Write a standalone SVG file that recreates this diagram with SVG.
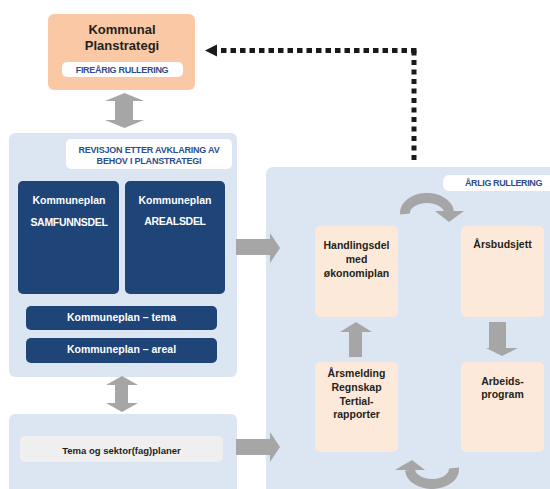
<svg xmlns="http://www.w3.org/2000/svg" width="550" height="489" viewBox="0 0 550 489">
<style>
text{font-family:"Liberation Sans",Arial,sans-serif;font-weight:bold;text-anchor:middle}
.panel{fill:#DCE6F2}
.navy{fill:#1F4477}
.wt{fill:#FFFFFF;font-size:10.5px}
.bt{fill:#2E4D8E;font-size:9px}
.dk{fill:#231F20;font-size:10.5px}
.peach{fill:#FDE9D9}
.ga{fill:#A6A6A6}
</style>
<rect width="550" height="489" fill="#FFFFFF"/>

<g id="planstrategi">
<rect x="48" y="14" width="147" height="76" rx="6" fill="#FAC8A4"/>
<text x="122" y="33.5" class="dk" style="font-size:13px">Kommunal</text>
<text x="122" y="50" class="dk" style="font-size:13px">Planstrategi</text>
<rect x="62" y="62" width="121" height="15" rx="5" fill="#FFFFFF"/>
<text x="122" y="72.7" class="bt" style="letter-spacing:-0.3px">FIREÅRIG RULLERING</text>
</g>

<g id="kommuneplan">
<rect x="9" y="133" width="228" height="244" rx="6" class="panel"/>
<rect x="66" y="139" width="166" height="30" rx="5" fill="#FFFFFF"/>
<text x="149" y="153.3" class="bt" style="letter-spacing:-0.2px">REVISJON ETTER AVKLARING AV</text>
<text x="149" y="164" class="bt" style="letter-spacing:-0.2px">BEHOV I PLANSTRATEGI</text>
</g>

<g id="samfunnsdel">
<rect x="18" y="181" width="101" height="113" rx="5" class="navy"/>
<text x="69" y="204.3" class="wt">Kommuneplan</text>
<text x="69" y="226" class="wt" style="letter-spacing:-0.3px">SAMFUNNSDEL</text>
</g>

<g id="arealsdel">
<rect x="125" y="181" width="100" height="113" rx="5" class="navy"/>
<text x="175" y="204.3" class="wt">Kommuneplan</text>
<text x="175" y="225" class="wt" style="letter-spacing:-0.3px">AREALSDEL</text>
</g>

<g id="tema">
<rect x="26" y="306" width="191" height="24" rx="5" class="navy"/>
<text x="121.5" y="320.7" class="wt">Kommuneplan – tema</text>
</g>

<g id="areal">
<rect x="26" y="338" width="191" height="25" rx="5" class="navy"/>
<text x="121.5" y="353.3" class="wt">Kommuneplan – areal</text>
</g>

<g id="sektorplaner">
<rect x="9" y="414" width="228" height="100" rx="6" class="panel"/>
<rect x="20" y="436" width="203" height="26" rx="5" fill="#EFEFEF"/>
<text x="121.5" y="453.5" class="dk" style="font-size:9.5px">Tema og sektor(fag)planer</text>
</g>

<g id="aarlig">
<rect x="266" y="167" width="300" height="340" rx="7" class="panel"/>
<rect x="443" y="175" width="120" height="16" rx="6" fill="#FFFFFF"/>
<text x="503.5" y="186" class="bt" style="letter-spacing:-0.4px">ÅRLIG RULLERING</text>
</g>

<g id="handlingsdel">
<rect x="315" y="226" width="83" height="91" rx="5" class="peach"/>
<text x="356.5" y="249.3" class="dk">Handlingsdel</text>
<text x="356.5" y="263.3" class="dk">med</text>
<text x="356.5" y="276.7" class="dk">økonomiplan</text>
</g>

<g id="aarsbudsjett">
<rect x="461" y="226" width="83" height="91" rx="5" class="peach"/>
<text x="502.5" y="248.3" class="dk">Årsbudsjett</text>
</g>

<g id="aarsmelding">
<rect x="315" y="362" width="83" height="90" rx="5" class="peach"/>
<text x="356.5" y="376.7" class="dk">Årsmelding</text>
<text x="356.5" y="390.7" class="dk">Regnskap</text>
<text x="356.5" y="404.5" class="dk">Tertial-</text>
<text x="356.5" y="418.3" class="dk">rapporter</text>
</g>

<g id="arbeidsprogram">
<rect x="461" y="362" width="83" height="90" rx="5" class="peach"/>
<text x="502.5" y="385" class="dk">Arbeids-</text>
<text x="502.5" y="398.3" class="dk">program</text>
</g>

<g id="connectors">
<!-- double arrow top -->
<polygon class="ga" points="124.5,93 105,101 115,101 115,120 105,120 124.5,128 144,120 133,120 133,101 144,101"/>
<!-- double arrow bottom -->
<polygon class="ga" points="122,376 106,385 115,385 115,403 106,403 122,412 138,403 128,403 128,385 138,385"/>
<!-- right arrows -->
<polygon class="ga" points="236,239 270,239 270,233 280,248 270,263 270,255 236,255"/>
<polygon class="ga" points="236,439 270,439 270,432 280,447 270,462 270,455 236,455"/>
<!-- up arrow -->
<polygon class="ga" points="349,357 349,332 340,332 356,322 372,332 362,332 362,357"/>
<!-- down arrow -->
<polygon class="ga" points="489,322 506,322 506,348 518,348 502,356 486,348 489,348"/>
<!-- top curved arrow -->
<path d="M405 214 A22 15 0 0 1 449 212" fill="none" stroke="#A6A6A6" stroke-width="10"/>
<polygon class="ga" points="435,211 464,211 449,222"/>
<!-- bottom curved arrow -->
<path d="M454 468 A22 15 0 0 1 410 470" fill="none" stroke="#A6A6A6" stroke-width="10"/>
<polygon class="ga" points="395,470 425,470 412,460"/>
<!-- dotted feedback -->
<line x1="414" y1="50.5" x2="414" y2="164" stroke="#1A1A1A" stroke-width="5" stroke-dasharray="5 4.5"/>
<line x1="416.5" y1="50.5" x2="214" y2="50.5" stroke="#1A1A1A" stroke-width="5" stroke-dasharray="5.5 4"/>
<polygon points="205,50.5 217,44.5 217,56.5" fill="#1A1A1A"/>
</g>
</svg>
